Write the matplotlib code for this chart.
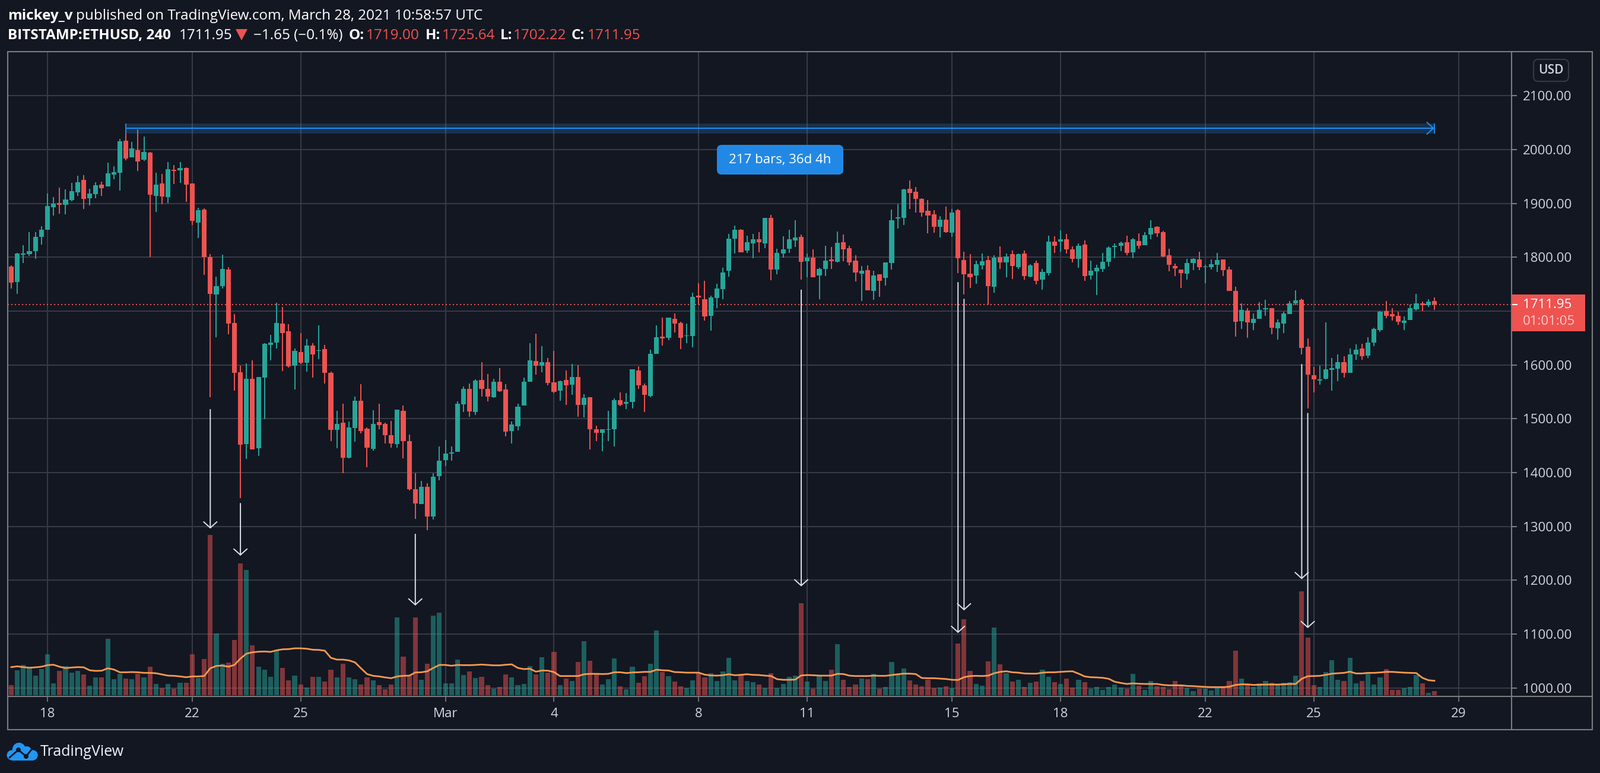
"""
BITSTAMP:ETHUSD 4h candles with volume, TradingView dark layout.
"""

import matplotlib
matplotlib.use('Agg')
import matplotlib.pyplot as plt
from matplotlib.patches import Circle, FancyBboxPatch, Polygon, Rectangle
from matplotlib.transforms import blended_transform_factory

plt.rcParams['font.family'] = 'Open Sans'

opens = [
    1783, 1754.5, 1805, 1806, 1811, 1838, 1851, 1893, 1900.5, 1897.6,
    1906.4, 1920.7, 1944, 1909.7, 1917.4, 1935, 1931.7, 1953.8, 1957, 2016.5,
    1985.7, 1999, 1981.3, 1994.5, 1914, 1937, 1912, 1962.6, 1961.5, 1966,
    1937, 1864.6, 1888.8, 1800.7, 1731.4, 1746.8, 1777.6, 1678.5, 1586, 1453,
    1574, 1445, 1577, 1637, 1642, 1677.4, 1662, 1598, 1623.5, 1603.7,
    1635.6, 1625.7, 1629, 1585, 1479, 1492.5, 1427.5, 1482.5, 1534, 1481.4,
    1444, 1493.6, 1490, 1469, 1453, 1514.5, 1458.3, 1369, 1341.6, 1373.5,
    1318.5, 1393.4, 1423, 1435, 1438.5, 1526.6, 1555, 1512, 1571.7, 1556,
    1540, 1568.4, 1554, 1477, 1486, 1524.4, 1568.4, 1607, 1599, 1604.7,
    1568, 1551.7, 1572.6, 1563.7, 1578, 1525.4, 1540.5, 1480, 1473.5, 1479,
    1480, 1535, 1528.5, 1530.8, 1590, 1562.5, 1542.8, 1621, 1653, 1650,
    1686, 1678.5, 1654, 1654, 1729, 1722.6, 1691.7, 1723.8, 1741, 1774.5,
    1835, 1850.7, 1813, 1826, 1834, 1826, 1872.7, 1776.8, 1807.3, 1816,
    1831.7, 1838.3, 1793, 1799.6, 1766.7, 1778.7, 1796.5, 1792, 1827.5, 1817.4,
    1794, 1769.8, 1776.4, 1738, 1768, 1761.3, 1788.8, 1871.6, 1873.5, 1927.6,
    1922, 1909, 1886, 1879.3, 1857, 1870.4, 1846, 1887, 1795.4, 1769,
    1766.7, 1785.3, 1795.4, 1744.7, 1800.8, 1791, 1805.4, 1782, 1807.3, 1764.4,
    1788.8, 1759, 1771, 1828.6, 1828.6, 1834, 1815, 1796.7, 1824, 1766.6,
    1774, 1778.7, 1792, 1819.5, 1821.7, 1828, 1809.5, 1830.5, 1822.8, 1842.6,
    1857, 1847, 1804, 1784.2, 1777.6, 1770, 1789.7, 1796.3, 1782, 1782,
    1786.4, 1796.3, 1777.6, 1737, 1681.8, 1701.6, 1678.5, 1686, 1703.8, 1705,
    1667.5, 1676.3, 1695, 1714.5, 1721.5, 1633.4, 1580.5, 1570.6, 1574, 1590.4,
    1592.6, 1604.8, 1585, 1619, 1631, 1616.9, 1642, 1665, 1700.5, 1694,
    1691.7, 1678.5, 1684, 1703.8, 1713.8, 1710.5, 1719,
]
closes = [
    1753.4, 1807, 1807, 1811, 1838, 1851, 1895.4, 1899.4, 1897.6, 1907.5,
    1923, 1939.4, 1908.6, 1918.5, 1934, 1928.4, 1956, 1958, 2015.4, 1983.5,
    2002, 1978, 1995.6, 1916.3, 1935, 1913, 1963.7, 1960.4, 1966, 1935,
    1868, 1887.7, 1800, 1732.5, 1746.8, 1778.7, 1677.4, 1585, 1451.7, 1574,
    1443, 1578, 1639, 1642, 1678.5, 1658.7, 1597, 1625.7, 1603.7, 1635.6,
    1620, 1627, 1585, 1479, 1491, 1427.5, 1483.6, 1533, 1477, 1446,
    1490, 1488, 1469, 1454, 1516.7, 1458.3, 1369, 1342.7, 1373.5, 1318.5,
    1392, 1422, 1435, 1437.4, 1527.7, 1555, 1513.4, 1570.6, 1555, 1541,
    1568.4, 1551, 1476, 1489, 1522, 1568.4, 1608, 1599, 1604.7, 1567,
    1550.5, 1570, 1561.7, 1578, 1525.4, 1538.5, 1481, 1474, 1480, 1481,
    1535, 1526, 1530.8, 1591.5, 1562.5, 1545, 1621, 1651, 1649, 1687.4,
    1677, 1650, 1655, 1727, 1725, 1690.5, 1725, 1742.4, 1772, 1835,
    1850.7, 1809.7, 1827.5, 1833, 1827.5, 1872.7, 1777.6, 1808.5, 1815, 1833,
    1837, 1792, 1799.6, 1763, 1778.7, 1794, 1793, 1826.3, 1815, 1790.7,
    1772, 1774.5, 1739, 1766.7, 1756.7, 1790, 1869, 1874.7, 1926.5, 1920,
    1908, 1883.5, 1878, 1857, 1870.4, 1847, 1883.5, 1797.7, 1768, 1763.3,
    1787.6, 1793, 1745.8, 1799.6, 1791, 1802, 1783.4, 1805.4, 1765.6, 1784.5,
    1756.7, 1773.3, 1828.6, 1821, 1834, 1814.3, 1796.7, 1821.7, 1765.5, 1775.4,
    1780, 1792, 1818, 1821.7, 1827, 1808.4, 1833.8, 1821.7, 1841.5, 1854.7,
    1844.8, 1801.8, 1786.4, 1779.8, 1771, 1789.7, 1797.4, 1782, 1783, 1787.5,
    1795, 1776.5, 1738, 1680.7, 1702.7, 1679.6, 1686.2, 1702.7, 1706, 1668.6,
    1679.6, 1696, 1713.8, 1720.4, 1632, 1581.6, 1572.8, 1572.8, 1591.5, 1593.7,
    1604.8, 1585, 1620, 1628, 1615.8, 1642, 1666.4, 1699.4, 1691.7, 1690.6,
    1680.7, 1682, 1705, 1713.8, 1710.5, 1718, 1711.95,
]
highs = [
    1785, 1808.4, 1822, 1846.6, 1847, 1858, 1918.5, 1912, 1929.5, 1926,
    1938, 1951.6, 1952.7, 1927, 1939.4, 1940.5, 1975.8, 1969, 2020, 2037,
    2014, 2037.4, 2024, 1995.6, 1957, 1955, 1977, 1971, 1977, 1967,
    1937, 1892, 1891, 1806, 1764.4, 1805, 1782, 1694, 1599, 1602.6,
    1608, 1578, 1641, 1655.4, 1715, 1708, 1676, 1631, 1658.7, 1648,
    1640, 1673, 1636.7, 1587, 1514.5, 1527.7, 1494.6, 1541, 1564, 1483.6,
    1515.6, 1527.7, 1492.5, 1495.8, 1516.7, 1524.4, 1470.4, 1399, 1384.6, 1380,
    1399, 1448.4, 1460.5, 1448.4, 1532, 1559.6, 1566, 1573, 1604.8, 1582.7,
    1574, 1593.7, 1564, 1494.6, 1527.7, 1577, 1640, 1657.7, 1635, 1612.4,
    1625.6, 1571, 1590, 1602, 1600, 1546, 1540.5, 1486.7, 1480, 1515,
    1537.4, 1549.4, 1548, 1592, 1597, 1565, 1628, 1673, 1687.4, 1688,
    1696, 1680, 1677, 1734.6, 1752, 1756.7, 1729, 1751, 1781, 1843,
    1858.4, 1851.8, 1840.6, 1843, 1847, 1872.7, 1879, 1816, 1839.5, 1850.7,
    1869, 1841.8, 1806.6, 1815, 1781, 1821, 1818.6, 1848, 1841.8, 1821.7,
    1804, 1783.4, 1785, 1774.5, 1768, 1790, 1889, 1899, 1927.6, 1943,
    1931, 1910, 1906.8, 1887, 1877, 1893.6, 1890, 1890, 1810.8, 1805.4,
    1794, 1807.3, 1803, 1804, 1819.7, 1807.3, 1813, 1807, 1812, 1787.6,
    1794, 1778.7, 1840.6, 1839.5, 1849.5, 1843.7, 1820.6, 1826, 1831.6, 1794,
    1786.4, 1808.4, 1820.6, 1826, 1829, 1840, 1836, 1844.8, 1847, 1869,
    1858, 1849, 1816, 1788.6, 1777.6, 1797.4, 1798.5, 1810.6, 1786.4, 1796.3,
    1808.4, 1796.3, 1783, 1745.7, 1713.8, 1705, 1696, 1717, 1721.5, 1706,
    1685, 1699.4, 1719, 1739, 1723.7, 1648.8, 1596, 1599, 1679.6, 1612.5,
    1619, 1615.8, 1631, 1637.8, 1639, 1652, 1668.6, 1700.5, 1719, 1705,
    1699.4, 1690.6, 1711.6, 1732.5, 1718, 1722.6, 1725.64,
]
lows = [
    1742, 1732.5, 1789, 1803, 1797, 1824, 1851, 1878, 1881, 1880,
    1904, 1914, 1890, 1896.5, 1909.7, 1914, 1931.7, 1945, 1924, 1980,
    1985.7, 1960.4, 1979, 1800.7, 1884, 1899, 1901, 1936, 1938, 1903,
    1860, 1836, 1767.7, 1540, 1651, 1742.4, 1656.5, 1552, 1352.6, 1425,
    1443, 1431, 1499, 1608, 1631, 1589, 1595, 1554, 1601.5, 1587,
    1577, 1611, 1565, 1458, 1445, 1399, 1426.5, 1457, 1472.6, 1410,
    1440.7, 1480, 1454, 1446, 1446, 1426.5, 1367, 1314, 1341.6, 1293,
    1313, 1385.7, 1412, 1422, 1438.5, 1512, 1503.5, 1506.8, 1541, 1532,
    1539, 1550, 1467, 1454, 1478, 1524.4, 1568.4, 1581.5, 1586, 1562.5,
    1548, 1534, 1526, 1545, 1503.3, 1503, 1442.6, 1459, 1440, 1459,
    1448, 1524, 1518, 1519.6, 1556, 1512, 1540.5, 1621, 1636.4, 1646.5,
    1660.8, 1629, 1640, 1633, 1712, 1682.8, 1664, 1705, 1722.6, 1764,
    1807, 1809.7, 1808.5, 1797.7, 1809.7, 1817.4, 1757.8, 1768, 1799.6, 1808.5,
    1818.6, 1759, 1762.5, 1763, 1722.6, 1765.6, 1778.7, 1790.7, 1793, 1784.5,
    1755.5, 1719, 1739, 1721.5, 1727, 1747.8, 1777.6, 1853.8, 1860, 1890,
    1883.5, 1875.8, 1845, 1846, 1836.4, 1846, 1838, 1771, 1730.4, 1743.5,
    1751, 1777.6, 1711.8, 1734.6, 1778.7, 1763, 1760, 1778.7, 1759, 1763,
    1750, 1740, 1766.7, 1808.5, 1810.8, 1806.6, 1790.8, 1780, 1756.7, 1759,
    1730, 1773, 1783, 1798.5, 1811.7, 1804, 1798.5, 1816, 1822.8, 1833.8,
    1838, 1800.7, 1774.3, 1765.5, 1743.5, 1759, 1776.5, 1776.5, 1752, 1777.6,
    1773, 1765.5, 1737, 1653, 1666.4, 1650, 1665, 1686, 1691.7, 1656.5,
    1646.6, 1658.7, 1695, 1710.5, 1620, 1519, 1548.6, 1563, 1573, 1552,
    1569.5, 1577, 1585, 1610, 1610, 1612.5, 1634.5, 1661, 1687, 1682,
    1675, 1665, 1684, 1701.6, 1700.5, 1708, 1702.22,
]
volumes = [
    51, 126, 153, 137, 99, 132, 207, 60, 123, 147,
    114, 123, 105, 48, 90, 90, 285, 81, 108, 84,
    81, 108, 90, 144, 57, 36, 57, 33, 63, 63,
    207, 87, 183, 810, 312, 159, 165, 279, 666, 633,
    252, 144, 129, 93, 225, 138, 75, 99, 54, 39,
    93, 93, 69, 129, 90, 159, 90, 81, 54, 90,
    75, 51, 30, 54, 393, 195, 102, 393, 78, 159,
    402, 417, 60, 60, 180, 102, 120, 87, 93, 51,
    33, 42, 105, 90, 51, 57, 147, 105, 192, 114,
    219, 51, 84, 72, 168, 273, 174, 105, 54, 81,
    186, 45, 30, 144, 63, 96, 159, 327, 117, 96,
    69, 45, 36, 75, 111, 90, 111, 72, 120, 189,
    75, 102, 72, 66, 54, 36, 111, 36, 57, 93,
    99, 465, 69, 33, 99, 72, 129, 258, 78, 42,
    54, 84, 81, 108, 33, 42, 168, 105, 135, 75,
    54, 45, 78, 36, 39, 45, 36, 261, 384, 123,
    57, 48, 171, 342, 156, 111, 69, 78, 42, 63,
    69, 129, 93, 66, 57, 84, 39, 78, 66, 33,
    42, 27, 42, 54, 39, 33, 108, 48, 27, 72,
    45, 42, 30, 72, 48, 36, 21, 33, 33, 24,
    36, 39, 72, 225, 84, 51, 42, 60, 72, 63,
    51, 63, 66, 99, 525, 291, 51, 42, 117, 177,
    78, 72, 189, 60, 72, 111, 54, 90, 132, 27,
    27, 36, 42, 102, 60, 12, 21,
]
volume_ma = [
    142, 146, 142, 139, 141, 144, 152, 154, 144, 137,
    140, 142, 141, 126, 123, 124, 136, 130, 116, 116,
    117, 116, 113, 113, 111, 105, 99, 98, 95, 91,
    95, 95, 97, 136, 148, 150, 144, 153, 185, 210,
    217, 220, 221, 219, 227, 232, 233, 237, 237, 235,
    230, 229, 225, 189, 180, 180, 176, 166, 136, 107,
    98, 95, 90, 86, 95, 98, 99, 115, 116, 121,
    138, 153, 153, 149, 153, 152, 152, 153, 155, 153,
    151, 151, 154, 156, 138, 132, 134, 119, 125, 124,
    117, 97, 97, 97, 97, 106, 108, 108, 107, 108,
    116, 116, 112, 115, 116, 118, 118, 129, 126, 125,
    117, 116, 114, 114, 114, 104, 100, 99, 101, 106,
    101, 103, 106, 103, 102, 99, 97, 81, 78, 78,
    79, 100, 102, 101, 99, 99, 99, 108, 107, 99,
    97, 97, 97, 99, 98, 98, 102, 106, 109, 109,
    107, 87, 86, 86, 84, 82, 78, 77, 91, 97,
    98, 97, 99, 111, 118, 121, 116, 114, 110, 109,
    109, 114, 116, 116, 118, 120, 121, 109, 95, 91,
    90, 88, 83, 68, 62, 57, 60, 58, 57, 57,
    57, 52, 50, 50, 50, 47, 46, 44, 42, 41,
    41, 41, 43, 52, 55, 55, 52, 53, 54, 54,
    54, 55, 57, 57, 83, 96, 97, 98, 103, 109,
    111, 113, 119, 110, 110, 113, 113, 115, 118, 118,
    116, 114, 113, 112, 88, 76, 73,
]

price_ticks = [1000, 1100, 1200, 1300, 1400, 1500, 1600, 1700, 1800, 1900, 2000, 2100]
date_ticks = [6, 30, 48, 72, 90, 114, 132, 156, 174, 198, 216, 240]
date_labels = ['18', '22', '25', 'Mar', '4', '8', '11', '15', '18', '22', '25', '29']

# white call-out arrows: bar, price at start, price at tip
arrow_bars = [33, 38, 67, 131, 157, 158, 214, 215]
arrow_starts = [1517, 1342.6, 1285.5, 1739, 1753, 1722, 1600.8, 1510]
arrow_tips = [1296, 1245.6, 1153, 1188.6, 1102, 1144, 1202, 1111]

range_start_bar = 19
range_end_bar = 236
range_price = 2039.7
range_band = (2030, 2049)
last_price = 1711.95

BG = '#131722'
GRID = '#363a45'
FRAME = '#7a7c80'
TEXT = '#d1d4dc'
GREEN = '#26a69a'
RED = '#ef5350'
BLUE = '#2189e5'
W, H = 2696, 1302

fig = plt.figure(figsize=(W / 100, H / 100), dpi=100, facecolor=BG)
AX_L, AX_R, AX_T, AX_B = 12.6, 2547, 87, 1173
ax = fig.add_axes([AX_L / W, 1 - AX_B / H, (AX_R - AX_L) / W, (AX_B - AX_T) / H])
ax.set_facecolor(BG)
ax.set_xlim(-0.63, 248.8)
ax.set_ylim(984.2, 2182)

ax.set_axisbelow(True)
ax.grid(True, color=GRID, linewidth=1.5)
for spine in ax.spines.values():
    spine.set_visible(False)

# candles
xs = list(range(len(closes)))
colors = [GREEN if c >= o else RED for o, c in zip(opens, closes)]
bottoms = [min(o, c) for o, c in zip(opens, closes)]
heights = [max(abs(c - o), 1.0) for o, c in zip(opens, closes)]
ax.vlines(xs, lows, highs, colors=colors, linewidth=1.4, zorder=3)
ax.bar(xs, heights, bottom=bottoms, width=0.8, color=colors, linewidth=0, zorder=3)

ax.axhline(last_price, color=RED, linewidth=1.44, linestyle=(0, (1, 2)), zorder=2)

# measured range tool
ax.fill_between([range_start_bar, range_end_bar], range_band[0], range_band[1],
                color='#2196f3', alpha=0.22, linewidth=0, zorder=4)
ax.vlines([range_start_bar, range_end_bar], range_band[0], range_band[1],
          colors=BLUE, linewidth=1.4, zorder=5)
ax.annotate('', xy=(range_end_bar, range_price), xytext=(range_start_bar, range_price),
            arrowprops=dict(arrowstyle='->,head_length=0.5,head_width=0.45', color=BLUE,
                            linewidth=1.5, mutation_scale=16, shrinkA=0, shrinkB=0),
            zorder=5)

ax.set_xticks(date_ticks)
ax.set_xticklabels(date_labels)
ax.set_yticks(price_ticks)
# the last price tag covers the 1700 label
ax.set_yticklabels(['' if p == 1700 else f'{p:.2f}' for p in price_ticks])

# volume on its own scale, same x
ax_vol = ax.twinx()
ax_vol.set_ylim(-6, 3252)
ax_vol.patch.set_visible(False)
ax_vol.yaxis.set_visible(False)
for spine in ax_vol.spines.values():
    spine.set_visible(False)
ax_vol.bar(xs, volumes, width=0.8, color=colors, alpha=0.5, linewidth=0, zorder=2)
ax_vol.plot(xs, volume_ma, color='#f79a4f', linewidth=2, zorder=3)

for bar, start, tip in zip(arrow_bars, arrow_starts, arrow_tips):
    ax_vol.annotate('', xy=(bar, tip), xytext=(bar, start),
                    xycoords=ax.transData, textcoords=ax.transData,
                    arrowprops=dict(arrowstyle='->,head_length=0.45,head_width=0.5',
                                    color='#dfe2ea', linewidth=1.4, mutation_scale=16,
                                    shrinkA=0, shrinkB=0),
                    zorder=6)

ax.yaxis.tick_right()
ax.tick_params(axis='y', length=6.5, width=1.44, color=FRAME, pad=7,
               labelcolor=TEXT, labelsize=16)
ax.tick_params(axis='x', length=6.5, width=1.2, color=FRAME, pad=7,
               labelcolor=TEXT, labelsize=16)

# last price tag on the price scale
tag = blended_transform_factory(ax.transAxes, ax.transData)
tag_w = 124 / (AX_R - AX_L)
ax.add_patch(Rectangle((1.0, last_price - 49.6), tag_w, 68.4, transform=tag, color=RED,
                       linewidth=0, clip_on=False, zorder=7))
ax.plot([1.0, 1 + 9 / (AX_R - AX_L)], [last_price, last_price], transform=tag, color='white',
        linewidth=1.44, clip_on=False, zorder=8)
ax.text(1 + 19 / (AX_R - AX_L), last_price, f'{last_price:.2f}', transform=tag, color='white',
        fontsize=16, va='center', ha='left', zorder=8)
ax.text(1 + 19 / (AX_R - AX_L), last_price - 31, '01:01:05', transform=tag, color='#f9c9c7',
        fontsize=16, va='center', ha='left', zorder=8)

# page furniture, in pixel coordinates
ov = fig.add_axes([0, 0, 1, 1], zorder=10)
ov.set_xlim(0, W)
ov.set_ylim(H, 0)
ov.axis('off')

ov.add_patch(Rectangle((AX_L, AX_T), 2683 - AX_L, 1229 - AX_T, fill=False, edgecolor=FRAME,
                       linewidth=1.5))
ov.plot([AX_L, 2683], [AX_B, AX_B], color=FRAME, linewidth=1.5)
ov.plot([AX_R, AX_R], [AX_T, 1229], color=FRAME, linewidth=1.5)


def label(x, y, text, color='white', weight='normal', size=17.5):
    ov.text(x, y, text, color=color, fontweight=weight, fontsize=size, va='baseline', ha='left')


label(13, 33, 'mickey_v', weight='bold')
label(128, 33, 'published on TradingView.com, March 28, 2021 10:58:57 UTC')
label(13, 66, 'BITSTAMP:ETHUSD, 240', weight='bold')
label(302, 66, '1711.95')
ov.add_patch(Polygon([(397, 49), (417, 49), (407, 68)], color=RED, linewidth=0))
label(427, 66, '\u22121.65 (\u22120.1%)')
for lx, letter, vx, value in [(588, 'O:', 617, '1719.00'), (717, 'H:', 745, '1725.64'),
                              (843, 'L:', 865, '1702.22'), (963, 'C:', 990, '1711.95')]:
    label(lx, 66, letter, weight='bold')
    label(vx, 66, value, color=RED)

# range tool caption
ov.add_patch(FancyBboxPatch((1214, 250), 201, 38, boxstyle='round,pad=6,rounding_size=8',
                            facecolor=BLUE, edgecolor='none', mutation_aspect=1))
ov.text(1314, 269, '217 bars, 36d 4h', color='white', fontsize=16, ha='center', va='center')

# currency badge
ov.add_patch(FancyBboxPatch((2590, 106), 47, 25, boxstyle='round,pad=6,rounding_size=8',
                            facecolor=BG, edgecolor=GRID, linewidth=1.5))
ov.text(2613.5, 118, 'USD', color=TEXT, fontsize=15, fontweight='semibold', ha='center',
        va='center')

# logo
LOGO = '#2196f3'
for cx, cy, r in [(32, 1262, 11), (20, 1272, 8.5), (45, 1265, 8), (55, 1272, 8.7)]:
    ov.add_patch(Circle((cx, cy), r, color=LOGO, linewidth=0))
ov.add_patch(Rectangle((20, 1268), 36, 13, color=LOGO, linewidth=0))
ov.plot([16, 31, 44, 55], [1276, 1263, 1274, 1260], color=BG, linewidth=2)
for cx, cy in [(31, 1263), (44, 1274)]:
    ov.add_patch(Circle((cx, cy), 4, color=BG, linewidth=0))
label(68, 1273, 'TradingView', color='#f0f3fa', size=18)

fig.savefig('out.png', dpi=100, facecolor=BG)
